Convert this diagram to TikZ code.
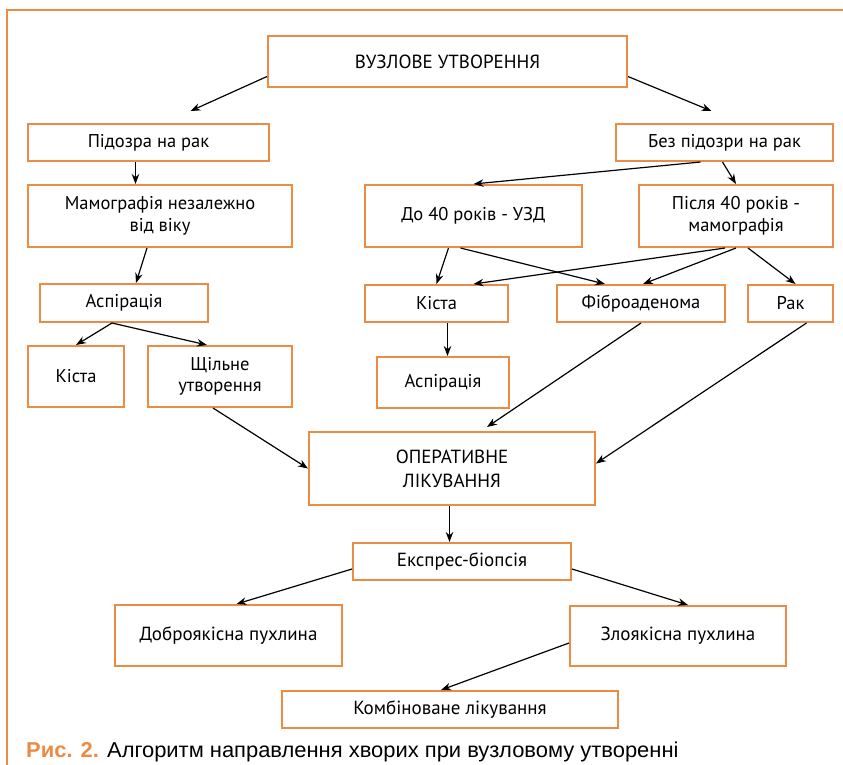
\documentclass[tikz,border=0pt]{standalone}
\usepackage{fontspec}
\setmainfont{PT Sans}
\newfontfamily\narrowfont{PT Sans}
\newfontfamily\capfont[FakeStretch=1.02]{Liberation Sans}
\usetikzlibrary{arrows.meta}
\definecolor{frameorange}{RGB}{236,139,68}
\begin{document}
\begin{tikzpicture}[x=1pt,y=-1pt,>={Stealth[length=10pt,width=7.5pt]},
	box/.style={draw=frameorange,line width=2pt,inner sep=0pt,align=center,
		font=\fontsize{18.5}{21.5}\selectfont},
	nbox/.style={box,font=\narrowfont\fontsize{19}{24}\selectfont},
	link/.style={->,line width=1.2pt}]
	\useasboundingbox[fill=white] (0,0) rectangle (843,764);
	\draw[frameorange,line width=2.5pt] (7,780) -- (7,10) -- (860,10);
	% boxes
	\node[nbox,minimum width=359pt,minimum height=51pt] (top) at (447.5,61.5) {ВУЗЛОВЕ УТВОРЕННЯ};
	\node[box,minimum width=241pt,minimum height=37pt] (susp) at (148.5,142.5) {Підозра на рак};
	\node[box,minimum width=217pt,minimum height=37pt] (nosusp) at (724.5,142.5) {Без підозри на рак};
	\node[box,minimum width=264pt,minimum height=62pt] (mammo) at (160,216) {Мамографія незалежно\\від віку};
	\node[box,minimum width=217pt,minimum height=62pt] (under40) at (473.5,216) {До 40 років - УЗД};
	\node[box,minimum width=194pt,minimum height=62pt] (over40) at (736,216) {Після 40 років -\\мамографія};
	\node[box,minimum width=168pt,minimum height=38pt] (asp1) at (124,303) {Аспірація};
	\node[box,minimum width=143pt,minimum height=37pt] (cyst2) at (436.5,303.5) {Кіста};
	\node[box,minimum width=168pt,minimum height=37pt] (fibro) at (641,303.5) {Фіброаденома};
	\node[box,minimum width=85pt,minimum height=37pt] (cancer) at (790.5,303.5) {Рак};
	\node[box,minimum width=96pt,minimum height=61pt] (cyst1) at (76,376.5) {Кіста};
	\node[box,minimum width=144pt,minimum height=61pt] (dense) at (220,376.5) {Щільне\\утворення};
	\node[box,minimum width=132pt,minimum height=51pt] (asp2) at (443,382.5) {Аспірація};
	\node[nbox,minimum width=286pt,minimum height=73pt] (oper) at (452,468.5) {ОПЕРАТИВНЕ\\ЛІКУВАННЯ};
	\node[nbox,minimum width=218pt,minimum height=37pt] (biopsy) at (462,561.5) {Експрес-біопсія};
	\node[nbox,minimum width=227pt,minimum height=61pt] (benign) at (228.5,635.5) {Доброякісна пухлина};
	\node[nbox,minimum width=216pt,minimum height=60pt] (malig) at (678,636) {Злоякісна пухлина};
	\node[nbox,minimum width=336pt,minimum height=37pt] (combo) at (450,709.5) {Комбіноване лікування};
	% arrows
	\draw[link] ([yshift=-15pt]top.west) -- ([xshift=42pt,yshift=12pt]susp.north);
	\draw[link] ([yshift=-15pt]top.east) -- ([xshift=-13pt,yshift=12pt]nosusp.north);
	\draw[link] ([xshift=-13pt]susp.south) -- ([xshift=-13pt]susp.south |- mammo.north);
	\draw[link] ([xshift=-13pt]mammo.south) -- ([xshift=12pt]asp1.north);
	\draw[link] ([xshift=-12pt]asp1.south) -- (cyst1.north);
	\draw[link] ([xshift=-12pt]asp1.south) -- ([xshift=-13pt]dense.north);
	\draw[link] ([xshift=-24pt]nosusp.south) -- (under40.north);
	\draw[link] ([xshift=-2pt]nosusp.south) -- (over40.north);
	\draw[link] ([xshift=-25pt]under40.south) -- (cyst2.north);
	\draw[link] ([xshift=-13pt]under40.south) -- ([xshift=-36pt]fibro.north);
	\draw[link] ([xshift=-11pt]over40.south) -- ([xshift=37pt]cyst2.north);
	\draw[link] (over40.south) -- ([xshift=2pt]fibro.north);
	\draw[link] ([xshift=12pt]over40.south) -- ([xshift=5pt]cancer.north);
	\draw[link] ([xshift=11pt]cyst2.south) -- ([xshift=11pt]cyst2.south |- asp2.north);
	\draw[link] (fibro.south) -- ([xshift=35pt,yshift=4pt]oper.north);
	\draw[link] ([xshift=16pt]cancer.south) -- ([yshift=5pt]oper.east);
	\draw[link] ([xshift=-7pt]dense.south) -- (oper.west);
	\draw[link] ([xshift=-2.5pt]oper.south) -- ([xshift=-2.5pt]oper.south |- biopsy.north);
	\draw[link] ([yshift=-7.5pt]biopsy.west) -- ([xshift=8pt]benign.north);
	\draw[link] ([yshift=-7.5pt]biopsy.east) -- ([xshift=10pt]malig.north);
	\draw[link] ([yshift=-7pt]malig.west) -- ([xshift=-9pt]combo.north);
	% caption
	\node[anchor=base west,inner sep=0pt,font=\capfont\fontsize{21.5}{26}\selectfont] (cap) at (26,757.5)
		{\textcolor{frameorange}{\textbf{Рис. 2.}} Алгоритм направлення хворих при вузловому утворенні};
\end{tikzpicture}
\end{document}
